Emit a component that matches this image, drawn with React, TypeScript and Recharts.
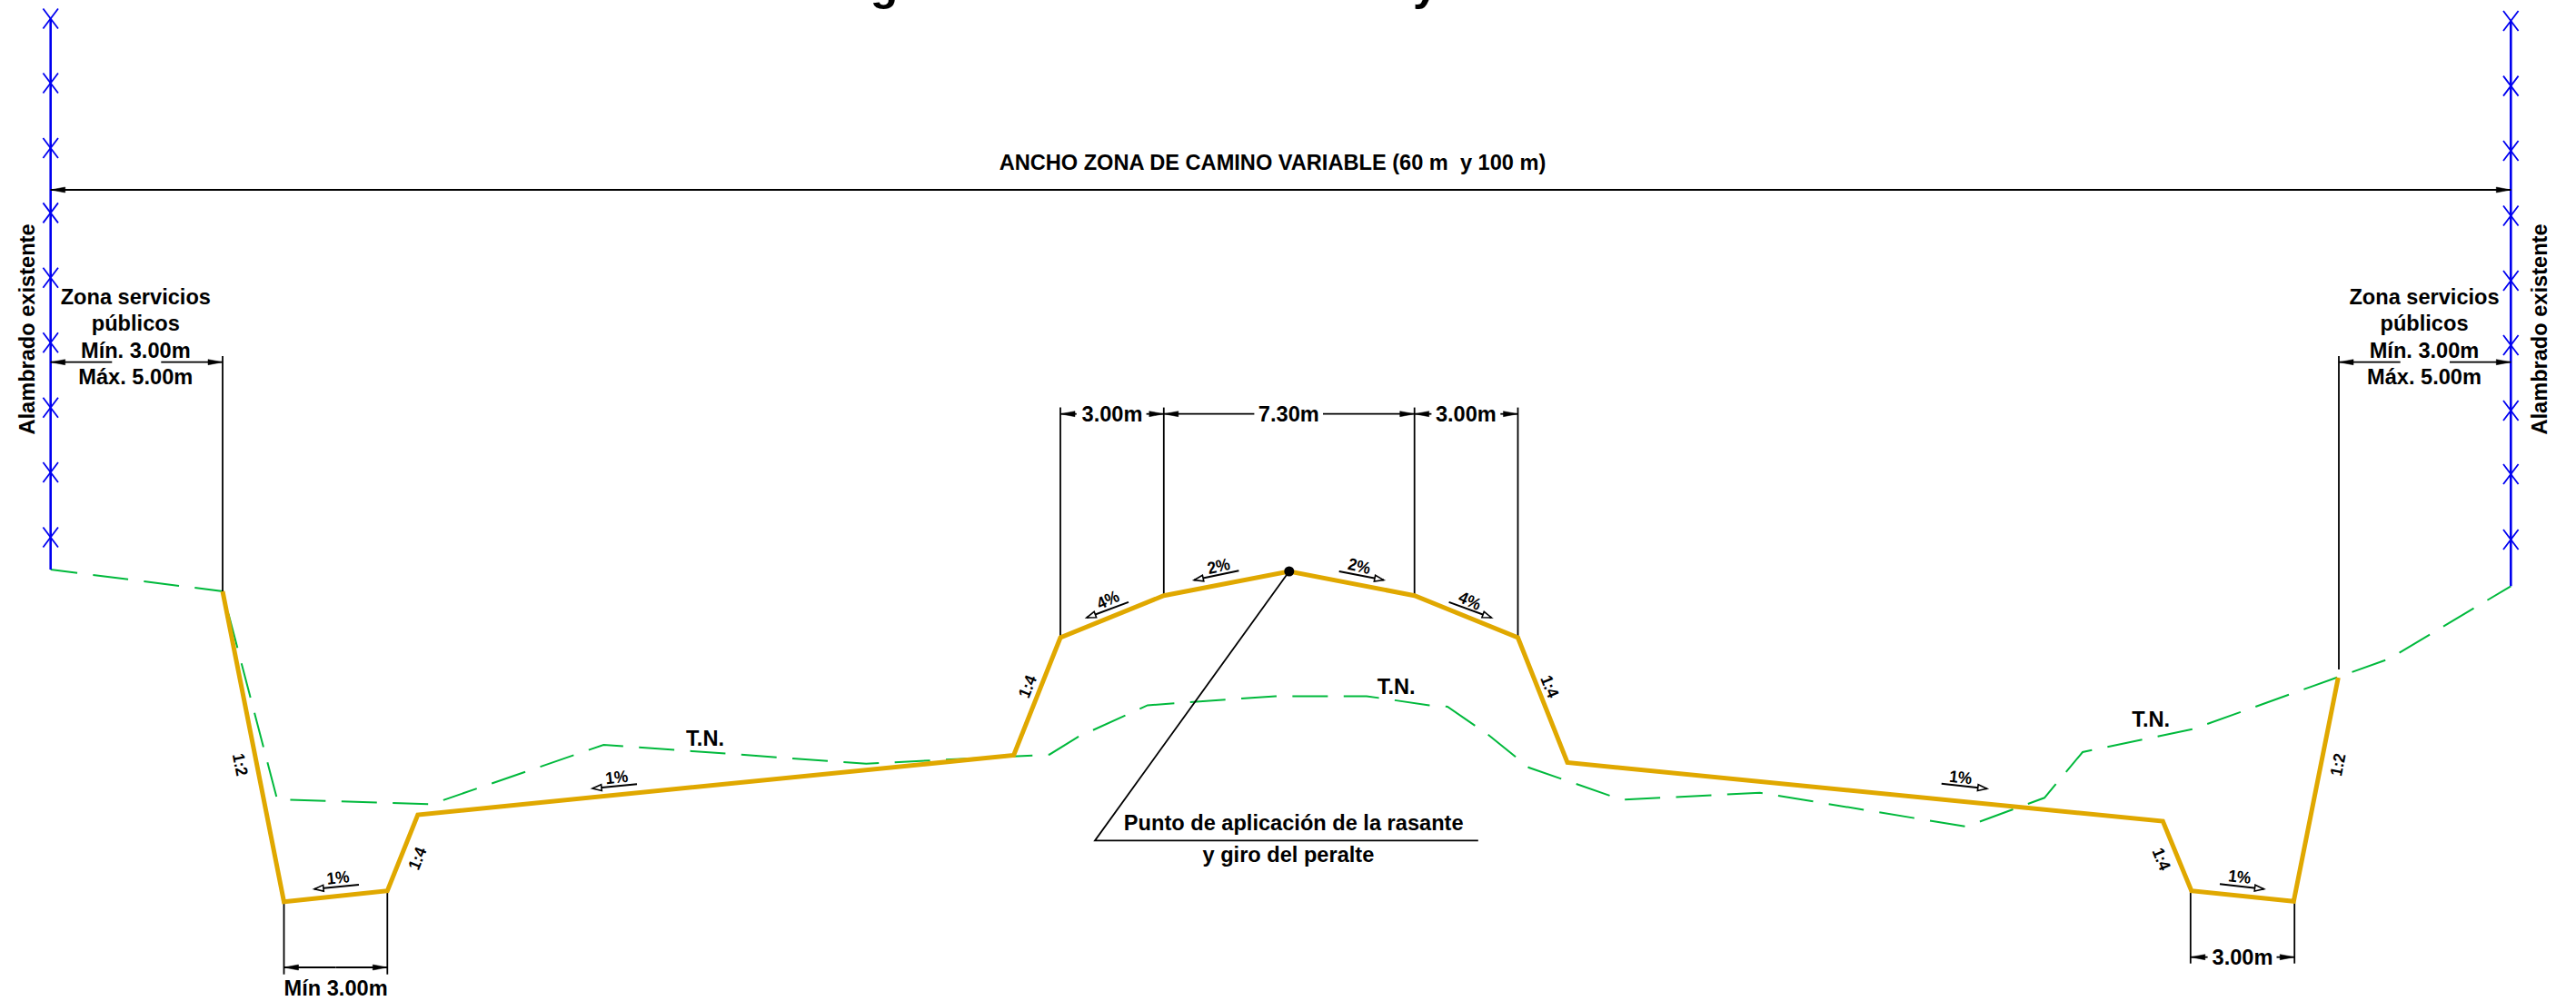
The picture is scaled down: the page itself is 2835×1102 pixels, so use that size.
import React from "react";
import { ComposedChart, Line, Scatter, XAxis, YAxis } from "recharts";

type P = { x: number; y: number };
const pts = (a: number[][]): P[] => a.map(([x, y]) => ({ x, y }));

const WIDTH = 2835;
const HEIGHT = 1102;
const FONT = '"Liberation Sans", Arial, sans-serif';
const YELLOW = "#E0A800";
const GREEN = "#00B93C";
const BLUE = "#0000F0";

// Road platform (finished section)
const platform = pts([
  [245, 651], [312.5, 992.7], [426.3, 980.7], [459.8, 897], [1115.6, 831.4],
  [1167, 702], [1280.8, 655.7], [1418.8, 629], [1556.7, 655.7], [1670.5, 702],
  [1725, 839.5], [2380.3, 904], [2411.8, 980.7], [2524.3, 992.3], [2573.3, 746],
]);

// Natural terrain (T.N.)
const terrain = pts([
  [55.7, 627], [245, 651], [305, 880], [475, 885.3], [664.3, 820], [953.3, 840.7],
  [1155, 830.7], [1187, 811], [1263, 776.4], [1403.6, 766.4], [1504, 766.4],
  [1573, 776.4], [1593, 778], [1638, 809], [1669, 834], [1682.6, 845], [1785, 880.5],
  [1936.7, 872.7], [2164, 910], [2250, 878.3], [2292, 828], [2413.3, 802.7],
  [2630, 725], [2763.3, 645.3],
]);

// Existing fences
const fenceLeft = pts([[55.7, 20.5], [55.7, 627]]);
const fenceRight = pts([[2763.3, 23], [2763.3, 645.3]]);
const fencePosts = pts([
  [55.7, 20.5], [55.7, 91.5], [55.7, 163], [55.7, 234.4], [55.7, 305.8],
  [55.7, 377.2], [55.7, 448.7], [55.7, 520], [55.7, 591.5],
  [2763.3, 23], [2763.3, 94.6], [2763.3, 166], [2763.3, 237.5], [2763.3, 309],
  [2763.3, 380], [2763.3, 452], [2763.3, 522], [2763.3, 594],
]);

// Extension lines
const extensionLines: number[][][] = [
  [[245, 392], [245, 651]],
  [[2574, 392], [2574, 737]],
  [[1167, 448.6], [1167, 702]],
  [[1280.8, 448.6], [1280.8, 655.7]],
  [[1556.7, 448.6], [1556.7, 655.7]],
  [[1670.5, 448.6], [1670.5, 702]],
  [[312.5, 992.7], [312.5, 1072.7]],
  [[426.3, 980.7], [426.3, 1072.7]],
  [[2410.8, 980.7], [2410.8, 1060.7]],
  [[2525.2, 992.3], [2525.2, 1060.7]],
  [[1418.8, 629], [1205, 925.4], [1626.8, 925.4]],
];

// Dimension segments, running from the inner end to the arrow tip
const dimensionSegments: number[][][] = [
  [[1400, 209], [55.7, 209]],
  [[1400, 209], [2763.3, 209]],
  [[123.3, 398.7], [55.7, 398.7]],
  [[177.3, 398.7], [245, 398.7]],
  [[2641.7, 398.7], [2574, 398.7]],
  [[2696, 398.7], [2763.3, 398.7]],
  [[1184.8, 455.7], [1167, 455.7]],
  [[1261.6, 455.7], [1280.8, 455.7]],
  [[1380.4, 455.7], [1280.8, 455.7]],
  [[1456, 455.7], [1556.7, 455.7]],
  [[1575.4, 455.7], [1556.7, 455.7]],
  [[1651.3, 455.7], [1670.5, 455.7]],
  [[369.4, 1065], [312.5, 1065]],
  [[369.4, 1065], [426.3, 1065]],
  [[2429.6, 1053.7], [2410.8, 1053.7]],
  [[2505.5, 1053.7], [2525.2, 1053.7]],
];

// Slope arrows, running from tail to tip
const slopeArrows: number[][][] = [
  [[395, 974], [346, 978.7]],
  [[701, 863.3], [652, 868]],
  [[1242, 662.9], [1196, 680]],
  [[1363.4, 628.2], [1314.3, 638.6]],
  [[1473.7, 629], [1522.8, 638.6]],
  [[1594.6, 662.9], [1641.5, 680]],
  [[2136.7, 862.7], [2186.7, 868.3]],
  [[2443, 973.3], [2491.5, 978.7]],
];

const axisPoint = pts([[1418.8, 629]]);

const mainLabels = [
  { x: 1400.5, y: 178, text: "ANCHO ZONA DE CAMINO VARIABLE (60 m  y 100 m)", rotate: 0 },
  { x: 149.3, y: 326, text: "Zona servicios", rotate: 0 },
  { x: 149.3, y: 355.4, text: "públicos", rotate: 0 },
  { x: 149.3, y: 385, text: "Mín. 3.00m", rotate: 0 },
  { x: 149.3, y: 414, text: "Máx. 5.00m", rotate: 0 },
  { x: 2668, y: 326, text: "Zona servicios", rotate: 0 },
  { x: 2668, y: 355.4, text: "públicos", rotate: 0 },
  { x: 2668, y: 385, text: "Mín. 3.00m", rotate: 0 },
  { x: 2668, y: 414, text: "Máx. 5.00m", rotate: 0 },
  { x: 29.3, y: 362.5, text: "Alambrado existente", rotate: -90 },
  { x: 2794, y: 362.5, text: "Alambrado existente", rotate: -90 },
  { x: 1224, y: 455.7, text: "3.00m", rotate: 0 },
  { x: 1418.3, y: 455.7, text: "7.30m", rotate: 0 },
  { x: 1613.4, y: 455.7, text: "3.00m", rotate: 0 },
  { x: 776, y: 812.7, text: "T.N.", rotate: 0 },
  { x: 1536.6, y: 755.7, text: "T.N.", rotate: 0 },
  { x: 2367.2, y: 791.7, text: "T.N.", rotate: 0 },
  { x: 1423.7, y: 905, text: "Punto de aplicación de la rasante", rotate: 0 },
  { x: 1417.9, y: 940.7, text: "y giro del peralte", rotate: 0 },
  { x: 369.6, y: 1087.7, text: "Mín 3.00m", rotate: 0 },
  { x: 2468, y: 1053.7, text: "3.00m", rotate: 0 },
];

const slopeLabels = [
  { x: 264.7, y: 841.7, text: "1:2", rotate: 79 },
  { x: 459, y: 945, text: "1:4", rotate: -68 },
  { x: 372, y: 965.7, text: "1%", rotate: -6 },
  { x: 678.6, y: 855.3, text: "1%", rotate: -6 },
  { x: 1130.4, y: 755.7, text: "1:4", rotate: -68 },
  { x: 1219.2, y: 660, text: "4%", rotate: -24 },
  { x: 1341, y: 622.9, text: "2%", rotate: -13 },
  { x: 1496, y: 622.9, text: "2%", rotate: 13 },
  { x: 1617.9, y: 661, text: "4%", rotate: 24 },
  { x: 1705.8, y: 755.7, text: "1:4", rotate: 68 },
  { x: 2157.7, y: 855.3, text: "1%", rotate: 6 },
  { x: 2379, y: 945.7, text: "1:4", rotate: 68 },
  { x: 2464.7, y: 965, text: "1%", rotate: 6 },
  { x: 2572.6, y: 841.7, text: "1:2", rotate: -79 },
];

// Only the descenders of the page title are left in the picture
const titleGlyphs = [
  { x: 973, y: -0.5, text: "g" },
  { x: 1569, y: -0.5, text: "y" },
];

const heads = (segments: number[][][]) =>
  segments.map(([from, to]) => ({ x: to[0], y: to[1], fromX: from[0], fromY: from[1] }));

const makeText = (size: number, squeeze: number) => (props: any) => {
  const { cx, cy, payload } = props;
  return (
    <text
      x={0}
      y={0}
      dy="0.36em"
      textAnchor="middle"
      fontFamily={FONT}
      fontWeight={700}
      fontSize={size}
      fill="#000"
      style={{ whiteSpace: "pre" }}
      transform={`translate(${cx} ${cy}) rotate(${payload.rotate}) scale(${squeeze} 1)`}
    >
      {payload.text}
    </text>
  );
};

const titleShape = (props: any) => (
  <text x={props.cx} y={props.cy} textAnchor="middle" fontFamily={FONT} fontWeight={700} fontSize={50} fill="#000">
    {props.payload.text}
  </text>
);

const postShape = (props: any) => {
  const { cx, cy } = props;
  return (
    <path
      d={`M${cx - 8.3} ${cy - 11}L${cx + 8.3} ${cy + 11}M${cx - 8.3} ${cy + 11}L${cx + 8.3} ${cy - 11}`}
      stroke={BLUE}
      strokeWidth={1.8}
      fill="none"
    />
  );
};

const makeHead = (len: number, half: number, fill: string, strokeW: number) => (props: any) => {
  const { cx, cy, payload } = props;
  const angle = (Math.atan2(payload.y - payload.fromY, payload.x - payload.fromX) * 180) / Math.PI;
  return (
    <path
      d={`M0 0L${-len} ${-half}L${-len} ${half}Z`}
      transform={`translate(${cx} ${cy}) rotate(${angle})`}
      fill={fill}
      stroke="#000"
      strokeWidth={strokeW}
    />
  );
};

const dotShape = (props: any) => <circle cx={props.cx} cy={props.cy} r={5.5} fill="#000" />;

const lineProps = {
  dataKey: "y",
  dot: false,
  activeDot: false,
  isAnimationActive: false,
  type: "linear" as const,
  legendType: "none" as const,
  strokeLinejoin: "miter" as const,
};

export default function App() {
  return (
    <div style={{ position: "absolute", left: 0, top: 0, width: WIDTH, height: HEIGHT, background: "#fff" }}>
      <ComposedChart width={WIDTH} height={HEIGHT} margin={{ top: 0, right: 0, bottom: 0, left: 0 }}>
        <XAxis type="number" dataKey="x" domain={[0, WIDTH]} hide allowDataOverflow />
        <YAxis type="number" dataKey="y" domain={[0, HEIGHT]} reversed hide allowDataOverflow />

        <Line {...lineProps} data={terrain} stroke={GREEN} strokeWidth={2} strokeDasharray="39 17.42" strokeDashoffset={9.4} />
        <Line {...lineProps} data={fenceLeft} stroke={BLUE} strokeWidth={2.6} />
        <Line {...lineProps} data={fenceRight} stroke={BLUE} strokeWidth={2.6} />
        <Scatter data={fencePosts} shape={postShape} isAnimationActive={false} />

        {extensionLines.map((l, i) => (
          <Line key={`e${i}`} {...lineProps} data={pts(l)} stroke="#000" strokeWidth={1.8} />
        ))}
        {dimensionSegments.map((l, i) => (
          <Line key={`d${i}`} {...lineProps} data={pts(l)} stroke="#000" strokeWidth={1.8} />
        ))}
        {slopeArrows.map((l, i) => (
          <Line key={`s${i}`} {...lineProps} data={pts(l)} stroke="#000" strokeWidth={2} />
        ))}

        <Line {...lineProps} data={platform} stroke={YELLOW} strokeWidth={5} />

        <Scatter data={heads(dimensionSegments)} shape={makeHead(16, 3, "#000", 0.5)} isAnimationActive={false} />
        <Scatter data={heads(slopeArrows)} shape={makeHead(10, 3.4, "#fff", 1.6)} isAnimationActive={false} />
        <Scatter data={axisPoint} shape={dotShape} isAnimationActive={false} />
        <Scatter data={mainLabels} shape={makeText(23.6, 1)} isAnimationActive={false} />
        <Scatter data={slopeLabels} shape={makeText(18.5, 0.93)} isAnimationActive={false} />
        <Scatter data={titleGlyphs} shape={titleShape} isAnimationActive={false} />
      </ComposedChart>
    </div>
  );
}
